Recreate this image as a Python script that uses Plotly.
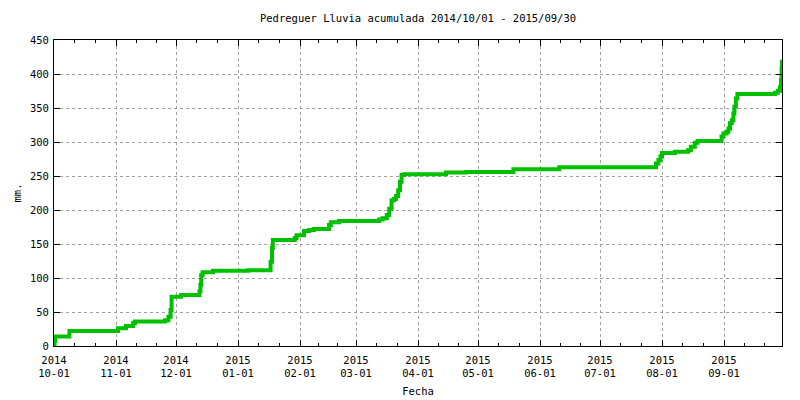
import plotly.graph_objects as go
import pandas as pd

# ---- data ----
fechas = [
    "2014-10-01 00:00", "2014-10-01 07:00", "2014-10-01 14:00", "2014-10-08 17:00",
    "2014-11-02 00:00", "2014-11-06 00:00", "2014-11-09 14:00", "2014-11-10 12:00",
    "2014-11-25 14:00", "2014-11-27 05:00", "2014-11-28 07:00", "2014-11-28 19:00",
    "2014-12-03 12:00", "2014-12-12 17:00", "2014-12-13 05:00", "2014-12-13 14:00",
    "2014-12-14 07:00", "2014-12-19 12:00", "2015-01-06 00:00", "2015-01-17 07:00",
    "2015-01-18 00:00", "2015-01-18 10:00", "2015-01-29 10:00", "2015-01-30 07:00",
    "2015-02-03 00:00", "2015-02-05 12:00", "2015-02-08 00:00", "2015-02-15 12:00",
    "2015-02-16 10:00", "2015-02-20 12:00", "2015-03-12 14:00", "2015-03-14 07:00",
    "2015-03-16 10:00", "2015-03-17 14:00", "2015-03-18 19:00", "2015-03-20 02:00",
    "2015-03-21 00:00", "2015-03-22 02:00", "2015-03-23 00:00", "2015-03-23 19:00",
    "2015-03-25 02:00", "2015-04-15 00:00", "2015-04-25 00:00", "2015-05-18 17:00",
    "2015-06-10 14:00", "2015-07-29 00:00", "2015-07-30 05:00", "2015-07-31 05:00",
    "2015-08-01 00:00", "2015-08-07 10:00", "2015-08-14 00:00", "2015-08-15 10:00",
    "2015-08-17 10:00", "2015-08-18 19:00", "2015-08-30 19:00", "2015-08-31 17:00",
    "2015-09-02 07:00", "2015-09-03 05:00", "2015-09-04 00:00", "2015-09-04 22:00",
    "2015-09-05 17:00", "2015-09-06 05:00", "2015-09-06 22:00", "2015-09-07 17:00",
    "2015-09-26 12:00", "2015-09-27 22:00", "2015-09-29 00:00", "2015-09-29 12:00",
    "2015-09-29 19:00", "2015-09-29 23:00", "2015-09-30 00:00",
]
lluvia_acumulada = [
    0, 8, 14, 22,
    26, 29.5, 34, 36,
    38, 43, 53, 72.5,
    75, 80, 90, 104,
    108.5, 110.5, 111.5, 124,
    144, 156, 159, 163,
    169, 170.5, 172, 178,
    182, 184, 186, 188,
    192.5, 202, 214.5, 216,
    220.5, 229, 241.5, 251.5,
    252.5, 255, 256, 260,
    263, 268.5, 273.5, 278.5,
    284, 285.5, 288, 293,
    299, 301.5, 308, 312.5,
    315, 320, 327.5, 332,
    342, 352, 364, 370.5,
    372.5, 375.5, 381, 391,
    408, 418, 418,
]

tick_fechas = ["2014-10-01", "2014-11-01", "2014-12-01", "2015-01-01", "2015-02-01",
               "2015-03-01", "2015-04-01", "2015-05-01", "2015-06-01", "2015-07-01",
               "2015-08-01", "2015-09-01"]
tick_textos = ["2014<br>10-01", "2014<br>11-01", "2014<br>12-01", "2015<br>01-01",
               "2015<br>02-01", "2015<br>03-01", "2015<br>04-01", "2015<br>05-01",
               "2015<br>06-01", "2015<br>07-01", "2015<br>08-01", "2015<br>09-01"]

titulo = "Pedreguer Lluvia acumulada 2014/10/01 - 2015/09/30"

# minor ticks: each month split in three
bounds = pd.to_datetime(tick_fechas + ["2015-10-01"])
minor_vals = []
for a, b in zip(bounds[:-1], bounds[1:]):
    span = b - a
    minor_vals += [(a + span / 3).strftime("%Y-%m-%d %H:%M"),
                   (a + 2 * span / 3).strftime("%Y-%m-%d %H:%M")]

FONT = "DejaVu Sans Mono"

fig = go.Figure()
fig.add_trace(go.Scatter(
    x=fechas, y=lluvia_acumulada, mode="lines",
    line=dict(color="#00c000", width=4, shape="hv"),
    showlegend=False,
))

fig.update_layout(
    width=800, height=400,
    margin=dict(l=54, r=18, t=40, b=54),
    paper_bgcolor="white", plot_bgcolor="white",
    font=dict(family=FONT, size=10.5, color="black"),
    title=dict(text=titulo, x=418 / 800, xanchor="center", y=1 - 18 / 400,
               yanchor="middle", font=dict(family=FONT, size=10.5)),
)

fig.update_xaxes(
    type="date", range=["2014-10-01", "2015-09-30"], automargin=False,
    tickmode="array", tickvals=tick_fechas, ticktext=tick_textos,
    ticks="inside", ticklen=6, tickcolor="black", tickwidth=1,
    showline=True, linecolor="black", linewidth=1, mirror="allticks",
    showgrid=True, gridcolor="#a0a0a0", gridwidth=1, griddash="3px,3px",
    zeroline=False, ticklabelstandoff=4,
    minor=dict(tickmode="array", tickvals=minor_vals, ticks="inside",
               ticklen=3, tickcolor="black", showgrid=False),
    title=dict(text="Fecha", standoff=9, font=dict(family=FONT, size=10.5)),
)
fig.update_yaxes(
    range=[0, 450], dtick=50, tick0=0, automargin=False,
    ticks="inside", ticklen=6, tickcolor="black", tickwidth=1,
    showline=True, linecolor="black", linewidth=1, mirror="allticks",
    showgrid=True, gridcolor="#a0a0a0", gridwidth=1, griddash="3px,3px",
    zeroline=False,
    ticklabelstandoff=2,
    title=dict(text="mm.", standoff=6, font=dict(family=FONT, size=10.5)),
)

fig.write_html("out.html", config={"displayModeBar": False},
               post_script="document.body.style.margin='0px';")
